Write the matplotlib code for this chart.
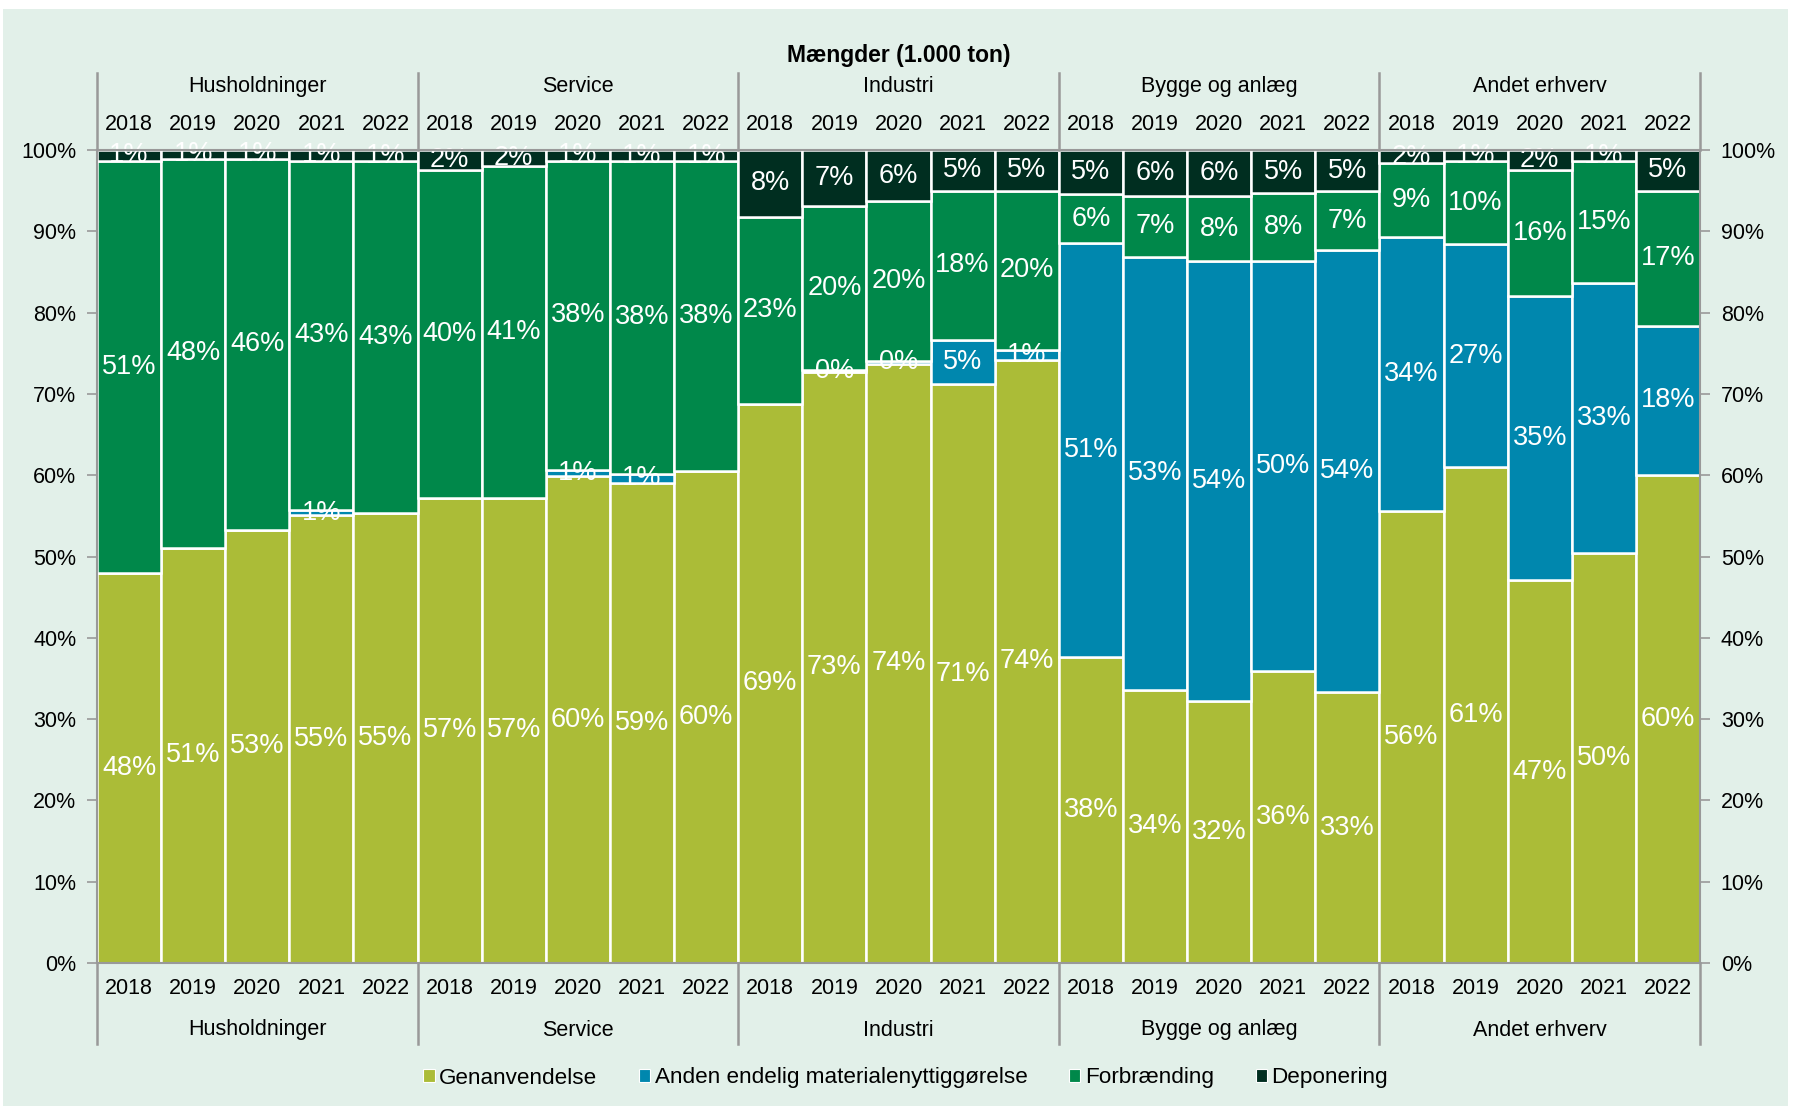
import matplotlib
matplotlib.use("Agg")
import matplotlib.pyplot as plt
from matplotlib.patches import Rectangle
from matplotlib.lines import Line2D
import numpy as np

plt.rcParams['font.family'] = ['Liberation Sans', 'DejaVu Sans']

groups = ["Husholdninger", "Service", "Industri", "Bygge og anlæg", "Andet erhverv"]
years = ["2018", "2019", "2020", "2021", "2022"]
series_names = ["Genanvendelse", "Anden endelig materialenyttiggørelse", "Forbrænding", "Deponering"]
colors = ["#ABBC37", "#0087AE", "#00884A", "#002E20"]

genanvendelse = [48.0, 51.1, 53.3, 55.1, 55.4,
                 57.2, 57.2, 59.9, 59.0, 60.5,
                 68.8, 72.7, 73.7, 71.2, 74.2,
                 37.6, 33.6, 32.2, 35.9, 33.3,
                 55.6, 61.0, 47.1, 50.4, 60.0]
anden = [0.0, 0.0, 0.0, 0.6, 0.0,
         0.0, 0.0, 0.8, 1.2, 0.0,
         0.0, 0.2, 0.4, 5.4, 1.2,
         50.9, 53.3, 54.1, 50.4, 54.4,
         33.7, 27.4, 34.9, 33.3, 18.4]
forbraending = [50.7, 47.8, 45.6, 43.0, 43.2,
                40.4, 40.8, 38.0, 38.4, 38.1,
                23.0, 20.2, 19.6, 18.4, 19.6,
                6.1, 7.4, 8.0, 8.4, 7.2,
                9.1, 10.2, 15.6, 14.9, 16.6]
deponering = [1.3, 1.1, 1.1, 1.3, 1.4,
              2.4, 2.0, 1.3, 1.4, 1.4,
              8.2, 6.9, 6.3, 5.0, 5.0,
              5.4, 5.7, 5.7, 5.3, 5.1,
              1.6, 1.4, 2.4, 1.4, 5.0]
title = "Mængder (1.000 ton)"

W, H = 1793, 1110
fig = plt.figure(figsize=(W / 100, H / 100), dpi=100, facecolor="white")
bg = "#E2F0E9"
fig.patches.append(Rectangle((3 / W, 4 / H), (W - 8) / W, (H - 13) / H,
                             transform=fig.transFigure, facecolor=bg, edgecolor="none", zorder=-10))

L, R, T, B = 97, 1700, 150, 963
ax = fig.add_axes([L / W, 1 - B / H, (R - L) / W, (B - T) / H])
ax.set_facecolor(bg)

n = len(genanvendelse)
x = np.arange(n)
data = [genanvendelse, anden, forbraending, deponering]
bottom = np.zeros(n)
for vals, col in zip(data, colors):
    vals = np.array(vals)
    ax.bar(x, vals, bottom=bottom, width=1.0, color=col, edgecolor="white", linewidth=1.8, zorder=2)
    for xi, v, b in zip(x, vals, bottom):
        if v > 0:
            ax.text(xi, b + v / 2, f"{v:.0f}%", ha="center", va="center", color="white",
                    fontsize=19.5, zorder=3)
    bottom += vals

ax.set_xlim(-0.5, n - 0.5)
ax.set_ylim(0, 100)
ax.set_yticks(np.arange(0, 101, 10))
ax.set_yticklabels([f"{v}%" for v in range(0, 101, 10)])
ax.tick_params(axis="y", which="both", left=True, right=True, labelleft=True, labelright=True,
               length=7, width=1.2, color="#999999", labelsize=15.5, pad=8)
ax.tick_params(axis="x", bottom=False, labelbottom=False)
for s in ["left", "right", "top", "bottom"]:
    ax.spines[s].set_color("#999999")
    ax.spines[s].set_linewidth(1.5)
    ax.spines[s].set_zorder(4)

ah = B - T
def ay(py):
    return (B - py) / ah

tr = ax.get_xaxis_transform()
for k in range(len(groups) + 1):
    xb = k * len(years) - 0.5
    for y0, y1 in [(1.0, ay(73)), (0.0, ay(1044))]:
        ax.add_line(Line2D([xb, xb], [y0, y1], transform=tr, color="#999999", lw=1.8, clip_on=False))

for gi, g in enumerate(groups):
    cx = gi * len(years) + (len(years) - 1) / 2
    ax.text(cx, ay(86), g, transform=tr, ha="center", va="center", fontsize=15.5)
    ax.text(cx, ay(1030), g, transform=tr, ha="center", va="center", fontsize=15.5)
    for yi, yr in enumerate(years):
        xi = gi * len(years) + yi
        ax.text(xi, ay(124), yr, transform=tr, ha="center", va="center", fontsize=15.5)
        ax.text(xi, ay(988), yr, transform=tr, ha="center", va="center", fontsize=15.5)

ax.text((n - 1) / 2, ay(55), title, transform=tr, ha="center", va="center", fontsize=16.5, fontweight="bold")

handles = [Rectangle((0, 0), 1, 1, facecolor=c, edgecolor="white", linewidth=0.8) for c in colors]
leg = fig.legend(handles, series_names, loc="center", bbox_to_anchor=(0.5 * (L + R) / W + 0.004, 1 - 1078 / H),
                 ncol=4, frameon=False, fontsize=16.2, handlelength=0.5, handleheight=0.5,
                 handletextpad=0.2, columnspacing=1.85)

fig.savefig("out.png", dpi=100, facecolor="white")
